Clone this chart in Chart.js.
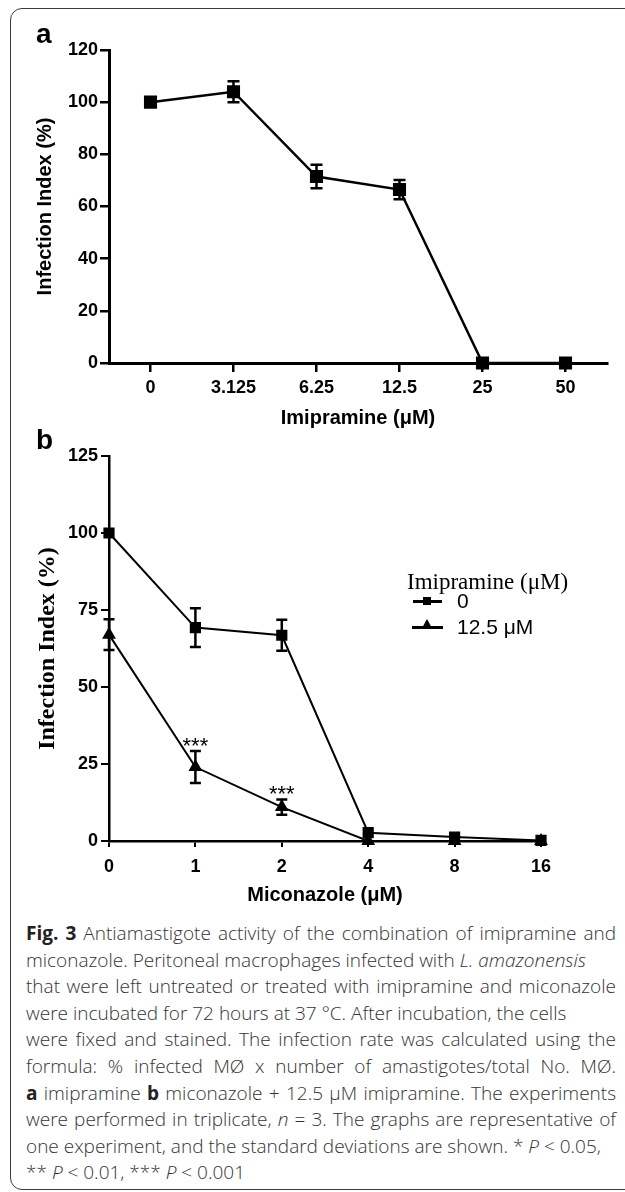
<!DOCTYPE html>
<html>
<head>
<meta charset="utf-8">
<script src="https://cdn.jsdelivr.net/npm/chart.js@4.4.0/dist/chart.umd.min.js"></script>
<style>
    html, body { margin: 0; padding: 0; background: #fff; }
    body { width: 625px; height: 1192px; position: relative; overflow: hidden; }
    #frame {
        position: absolute; left: 10px; top: 8px; width: 660px; height: 1182px;
        border: 1.5px solid #3a3a3a; border-radius: 12px; box-sizing: border-box;
    }
    canvas { position: absolute; left: 0; }
    #chartA { top: 0; }
    #chartB { top: 420px; }
    .panel { position: absolute; left: 36px; font: bold 28px "Liberation Sans", Arial, sans-serif; line-height: 28px; }
    #legend div, #legend i { position: absolute; }
    .lg-title { font: 23px "Liberation Serif", "Times New Roman", serif; line-height: 26px; white-space: nowrap; }
    .lg-text { font: 21px "Liberation Sans", Arial, sans-serif; line-height: 24px; white-space: nowrap; }
    .lg-line { height: 2.5px; width: 29px; background: #000; }
    .lg-sq { width: 8px; height: 8px; background: #000; }
    .lg-tri { width: 0; height: 0; border-left: 5px solid transparent; border-right: 5px solid transparent; border-bottom: 9px solid #000; }
    #caption {
        position: absolute; left: 26px; top: 920px; width: 590px;
        font: 300 19px "Open Sans", "Noto Sans", sans-serif;
        line-height: 26.6px; color: #333;
    }
    #caption b { font-weight: 700; color: #222; }
    #caption div { white-space: nowrap; }
    #caption div.j { text-align: justify; text-align-last: justify; }
</style>
</head>
<body>
<div id="frame"></div>
<canvas id="chartA" width="625" height="440"></canvas>
<canvas id="chartB" width="625" height="490"></canvas>
<div class="panel" style="top:20px">a</div>
<div class="panel" style="top:426px">b</div>
<div id="legend"></div>
<div id="caption">
    <div class="j"><b>Fig. 3</b> Antiamastigote activity of the combination of imipramine and</div>
    <div>miconazole. Peritoneal macrophages infected with <i>L. amazonensis</i></div>
    <div class="j">that were left untreated or treated with imipramine and miconazole</div>
    <div>were incubated for 72 hours at 37 °C. After incubation, the cells</div>
    <div class="j">were fixed and stained. The infection rate was calculated using the</div>
    <div class="j">formula: % infected MØ x number of amastigotes/total No. MØ.</div>
    <div class="j"><b>a</b> imipramine <b>b</b> miconazole + 12.5 μM imipramine. The experiments</div>
    <div class="j">were performed in triplicate, <i>n</i> = 3. The graphs are representative of</div>
    <div>one experiment, and the standard deviations are shown. * <i>P</i> &lt; 0.05,</div>
    <div>** <i>P</i> &lt; 0.01, *** <i>P</i> &lt; 0.001</div>
</div>
<script>
// ---- panel a data ----
const aLabels = ['0', '3.125', '6.25', '12.5', '25', '50'];
const aMeans = [100, 104, 71.5, 66.5, 0, 0];
const aErrors = [0, 4, 4.5, 3.7, 0, 0];

// ---- panel b data ----
const bLabels = ['0', '1', '2', '4', '8', '16'];
const bSeriesNames = ['0', '12.5 μM'];
const bMeansCtrl = [100, 69.3, 66.8, 2.7, 1.3, 0.2];
const bErrCtrl = [0, 6.3, 5, 0, 0, 0];
const bMeansImi = [67, 24, 11, 0, 0, 0];
const bErrImi = [5, 5.2, 2.5, 0, 0, 0];
const bStars = ['', '***', '***', '', '', ''];

const SANS = '"Liberation Sans", Arial, sans-serif';
const SERIF = '"Liberation Serif", "Times New Roman", serif';

// draws error bars (and significance stars) from the dataset values
const errorBars = {
    id: 'errorBars',
    afterDatasetsDraw(chart, args, opts) {
        const ctx = chart.ctx;
        const xs = chart.scales.x, ys = chart.scales.y;
        chart.data.datasets.forEach(ds => {
            if (!ds.errors) return;
            ctx.save();
            ctx.strokeStyle = '#000';
            ctx.fillStyle = '#000';
            ctx.lineWidth = opts.width;
            ds.data.forEach((v, j) => {
                const e = ds.errors[j] || 0;
                const x = xs.getPixelForValue(j);
                const yt = ys.getPixelForValue(v + e);
                if (e) {
                    const yb = ys.getPixelForValue(v - e);
                    ctx.beginPath();
                    ctx.moveTo(x, yt); ctx.lineTo(x, yb);
                    ctx.moveTo(x - opts.cap, yt); ctx.lineTo(x + opts.cap, yt);
                    ctx.moveTo(x - opts.cap, yb); ctx.lineTo(x + opts.cap, yb);
                    ctx.stroke();
                }
                if (ds.stars && ds.stars[j]) {
                    ctx.font = '22px ' + SANS;
                    ctx.textAlign = 'center';
                    ctx.textBaseline = 'alphabetic';
                    ctx.fillText(ds.stars[j], x, yt + 2);
                }
            });
            ctx.restore();
        });
    }
};

Chart.defaults.color = '#000';
Chart.defaults.animation = false;

// ---- chart a ----
new Chart(document.getElementById('chartA'), {
    type: 'line',
    data: {
        labels: aLabels,
        datasets: [{
            data: aMeans,
            errors: aErrors,
            borderColor: '#000',
            backgroundColor: '#000',
            borderWidth: 2.5,
            pointStyle: 'rect',
            pointRadius: 7.5,
            pointHoverRadius: 7.5,
            tension: 0,
            clip: false
        }]
    },
    options: {
        responsive: false,
        layout: { padding: { left: 0, top: 50, right: 18, bottom: 0 } },
        plugins: {
            legend: { display: false },
            tooltip: { enabled: false },
            errorBars: { width: 2.5, cap: 6 }
        },
        scales: {
            x: {
                offset: true,
                grid: { offset: false, drawOnChartArea: false, tickLength: 9, lineWidth: 2.5, color: '#000' },
                border: { display: true, color: '#000', width: 3 },
                ticks: { font: { family: SANS, size: 18, weight: 'bold' }, padding: 5, maxRotation: 0, autoSkip: false },
                title: { display: true, text: 'Imipramine (μM)', font: { family: SANS, size: 20, weight: 'bold' }, padding: { top: 0, bottom: 10 } },
                afterFit: s => { s.height = 77; }
            },
            y: {
                min: 0, max: 120,
                grid: { drawOnChartArea: false, tickLength: 9, lineWidth: 2.5, color: '#000' },
                border: { display: true, color: '#000', width: 3 },
                ticks: { stepSize: 20, font: { family: SANS, size: 18, weight: 'bold' }, padding: 2 },
                title: { display: true, text: 'Infection Index (%)', font: { family: SANS, size: 20, weight: 'bold' }, padding: { top: 33, bottom: 0 } },
                afterFit: s => { s.width = 109; }
            }
        }
    },
    plugins: [errorBars]
});

// ---- chart b ----
new Chart(document.getElementById('chartB'), {
    type: 'line',
    data: {
        labels: bLabels,
        datasets: [{
            label: bSeriesNames[0],
            data: bMeansCtrl,
            errors: bErrCtrl,
            borderColor: '#000',
            backgroundColor: '#000',
            borderWidth: 2,
            pointStyle: 'rect',
            pointRadius: 6.5,
            pointHoverRadius: 6.5,
            tension: 0,
            clip: false
        }, {
            label: bSeriesNames[1],
            data: bMeansImi,
            errors: bErrImi,
            stars: bStars,
            borderColor: '#000',
            backgroundColor: '#000',
            borderWidth: 2,
            pointStyle: 'triangle',
            pointRadius: 6,
            pointHoverRadius: 6,
            tension: 0,
            clip: false
        }]
    },
    options: {
        responsive: false,
        layout: { padding: { left: 0, top: 36, right: 84, bottom: 0 } },
        plugins: {
            legend: { display: false },
            tooltip: { enabled: false },
            errorBars: { width: 2.5, cap: 5.5 }
        },
        scales: {
            x: {
                offset: false,
                grid: { drawOnChartArea: false, tickLength: 6, lineWidth: 2, color: '#000' },
                border: { display: true, color: '#000', width: 2.5 },
                ticks: { font: { family: SANS, size: 18, weight: 'bold' }, padding: 9, maxRotation: 0, autoSkip: false },
                title: { display: true, text: 'Miconazole (μM)', font: { family: SANS, size: 20, weight: 'bold' }, padding: { top: 0, bottom: 3 } },
                afterFit: s => { s.height = 69; }
            },
            y: {
                min: 0, max: 125,
                grid: { drawOnChartArea: false, tickLength: 8, lineWidth: 2, color: '#000' },
                border: { display: true, color: '#000', width: 2.5 },
                ticks: { stepSize: 25, font: { family: SANS, size: 18, weight: 'bold' }, padding: 3 },
                title: { display: true, text: 'Infection Index (%)', font: { family: SERIF, size: 24, weight: 'bold' }, padding: { top: 33, bottom: 0 } },
                afterFit: s => { s.width = 109; }
            }
        }
    },
    plugins: [errorBars]
});

// ---- legend for chart b (html) ----
const legend = document.getElementById('legend');
legend.innerHTML =
    '<div class="lg-title" style="left:407px;top:569px">Imipramine (μM)</div>' +
    '<i class="lg-line" style="left:413px;top:600px"></i>' +
    '<i class="lg-sq" style="left:423px;top:597px"></i>' +
    '<div class="lg-text" style="left:457px;top:589px">' + bSeriesNames[0] + '</div>' +
    '<i class="lg-line" style="left:412px;top:626px;width:31px"></i>' +
    '<i class="lg-tri" style="left:422px;top:619px"></i>' +
    '<div class="lg-text" style="left:457px;top:615px">' + bSeriesNames[1] + '</div>';
</script>
</body>
</html>
